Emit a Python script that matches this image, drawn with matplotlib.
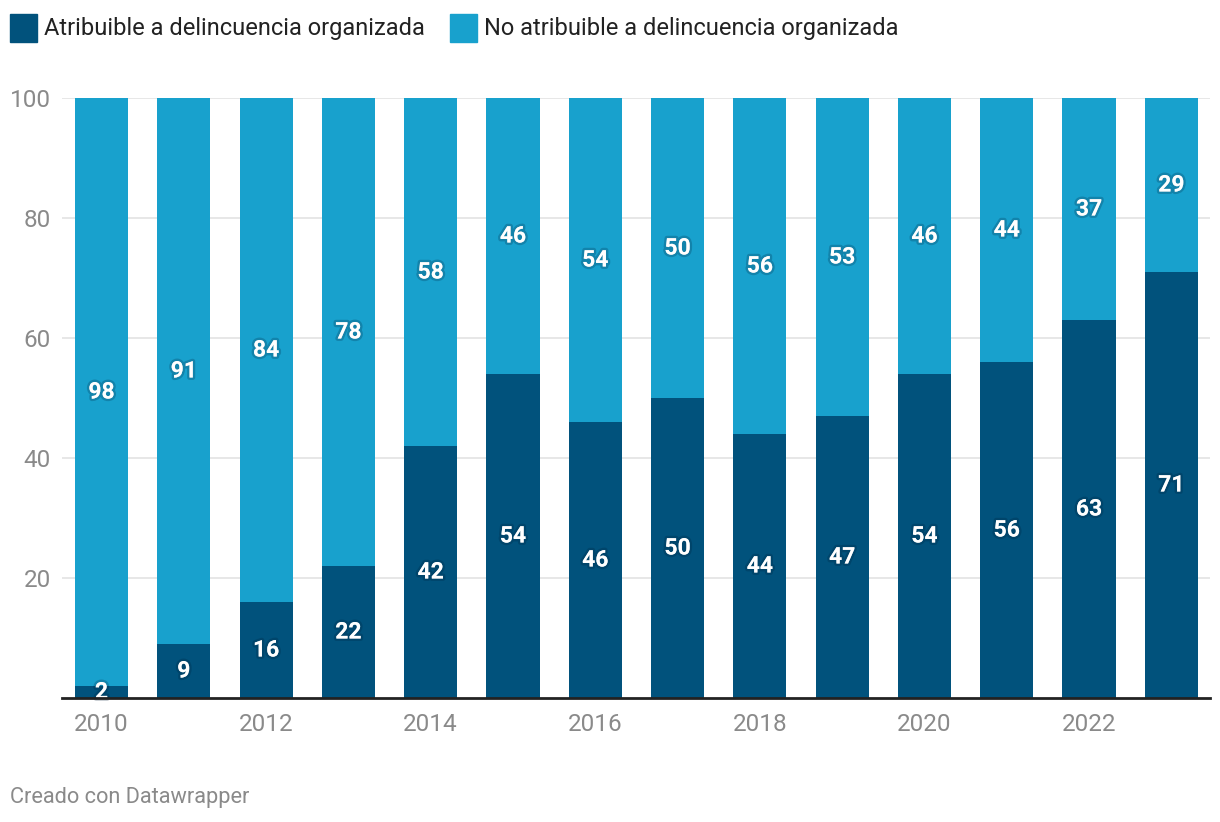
import matplotlib
matplotlib.use("Agg")
import matplotlib.pyplot as plt
import matplotlib.patheffects as pe
from matplotlib.patches import Rectangle
import numpy as np

plt.rcParams['font.family'] = ['Roboto', 'DejaVu Sans']

years = [2010, 2011, 2012, 2013, 2014, 2015, 2016, 2017, 2018, 2019, 2020, 2021, 2022, 2023]
atribuible = [2, 9, 16, 22, 42, 54, 46, 50, 44, 47, 54, 56, 63, 71]
no_atribuible = [98, 91, 84, 78, 58, 46, 54, 50, 56, 53, 46, 44, 37, 29]
series_names = ["Atribuible a delincuencia organizada", "No atribuible a delincuencia organizada"]
yticks = [20, 40, 60, 80, 100]
xtick_years = [2010, 2012, 2014, 2016, 2018, 2020, 2022]

dark = "#01527c"
light = "#18a1cd"

W, H = 1220, 822
fig = plt.figure(figsize=(W / 100, H / 100), dpi=100)
ax = fig.add_axes([62 / W, 1 - 698 / H, (1210 - 62) / W, (698 - 98) / H])

x = np.arange(len(years))
width = 0.645
ax.bar(x, atribuible, width=width, color=dark, zorder=3)
ax.bar(x, no_atribuible, width=width, bottom=atribuible, color=light, zorder=3)

shadow = [pe.withStroke(linewidth=3.5, foreground=(0, 0.1, 0.2, 0.22))]
for xi, a, b in zip(x, atribuible, no_atribuible):
    ax.text(xi, a / 2, str(a), ha='center', va='center', color='white',
            fontsize=16.5, fontweight='bold', zorder=5, path_effects=shadow)
    ax.text(xi, a + b / 2, str(b), ha='center', va='center', color='white',
            fontsize=16.5, fontweight='bold', zorder=5, path_effects=shadow)

ax.set_xlim(-0.48, len(years) - 1 + 0.47)
ax.set_ylim(0, 100)
ax.set_yticks(yticks)
ax.set_yticklabels([str(v) for v in yticks])
ax.set_xticks([years.index(y) for y in xtick_years])
ax.set_xticklabels([str(y) for y in xtick_years])
ax.tick_params(axis='both', length=0, labelsize=17.5, labelcolor='#8a8a8a')
ax.tick_params(axis='y', pad=8)
ax.tick_params(axis='x', pad=10.5)
ax.grid(axis='y', color='#e3e3e3', linewidth=1.2, zorder=0)
for s in ['top', 'right', 'left']:
    ax.spines[s].set_visible(False)
ax.spines['bottom'].set_color('#222222')
ax.spines['bottom'].set_linewidth(2)
ax.spines['bottom'].set_zorder(6)

# legend
leg_items = [(10, 44, dark, series_names[0]), (450, 484, light, series_names[1])]
for rx, tx, c, name in leg_items:
    fig.patches.append(Rectangle((rx / W, 1 - 42 / H), 27 / W, 28 / H,
                                 transform=fig.transFigure, color=c))
    fig.text(tx / W, 1 - 28 / H, name, ha='left', va='center',
             fontsize=17, color='#222222')

fig.text(10 / W, 1 - 797 / H, "Creado con Datawrapper", ha='left', va='center',
         fontsize=15.7, color='#8a8a8a')

fig.savefig("out.png", dpi=100)
